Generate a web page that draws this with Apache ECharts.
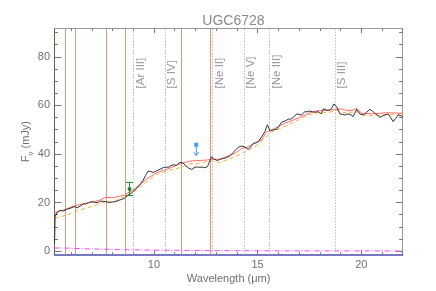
<!DOCTYPE html>
<html><head><meta charset="utf-8">
<script src="https://cdn.jsdelivr.net/npm/echarts@6/dist/echarts.min.js"></script>
<style>html,body{margin:0;padding:0;background:#fff}#c{width:436px;height:291px}</style>
</head><body><div id="c"></div>
<script>
// ---------- data ----------
const chartTitle = 'UGC6728';
const xName = 'Wavelength (\u03bcm)';
const xTickLabels = [10, 15, 20];
const xMinorTicks = [6,7,8,9,11,12,13,14,16,17,18,19,21,22];
const yTickLabels = [0, 20, 40, 60, 80];
const yMinorTicks = [5,10,15,25,30,35,45,50,55,65,70,75,85,90];
const pahWaves = [5.7, 6.2, 7.7, 8.6, 11.3, 12.7];
const lineNames = ['[Ar III]', '[S IV]', '[Ne II]', '[Ne V]', '[Ne III]', '[S III]'];
const lineWaves = [8.99, 10.51, 12.81, 14.32, 15.56, 18.71];

const spectrum = [[5.2,3],[5.23,14.2],[5.34,16.2],[5.48,16.8],[5.62,16.5],[5.78,17.2],[5.95,17.6],[6.14,18.3],[6.32,17.9],[6.45,18.6],[6.59,19.4],[6.72,19.5],[6.83,19.9],[6.95,20.3],[7.07,20.2],[7.19,20.0],[7.31,20.1],[7.43,20.6],[7.55,20.5],[7.72,20.3],[7.84,20.0],[7.96,20.2],[8.08,20.3],[8.2,20.5],[8.32,21.0],[8.44,21.3],[8.57,21.7],[8.76,23.1],[8.88,23.7],[9.0,24.5],[9.12,25.6],[9.24,26.5],[9.36,27.8],[9.48,29.3],[9.6,31.2],[9.72,33],[9.85,32.7],[9.97,32.4],[10.13,33.1],[10.29,33.7],[10.45,34.4],[10.57,34.6],[10.69,34.5],[10.81,35.2],[10.93,35.5],[11.09,35.4],[11.25,36.6],[11.41,36.2],[11.53,35.2],[11.65,34.3],[11.82,33.6],[11.98,34.6],[12.1,34.6],[12.22,34.5],[12.34,34.6],[12.46,34.3],[12.58,34.8],[12.67,35.5],[12.78,38.9],[12.86,38.0],[12.94,37.5],[13.06,37.3],[13.18,37.8],[13.34,38.2],[13.5,38.5],[13.66,39.2],[13.78,40.3],[13.91,41.4],[14.07,42.8],[14.23,43.3],[14.39,42.8],[14.55,41.9],[14.67,43.0],[14.79,44.4],[14.91,44.6],[15.03,45.1],[15.2,47.1],[15.35,49.2],[15.47,52],[15.6,49.6],[15.75,49.9],[15.92,50.2],[16.04,51.6],[16.16,53.1],[16.32,53.6],[16.48,54.3],[16.6,54.4],[16.72,55],[16.88,56.5],[17.0,56.3],[17.12,56.1],[17.28,57.4],[17.4,57.4],[17.53,57.7],[17.65,57.3],[17.77,57.2],[17.93,57.4],[18.06,56.5],[18.17,58.6],[18.33,58.1],[18.49,58.1],[18.6,59.2],[18.68,60.6],[18.81,59.5],[18.97,56.5],[19.09,56.3],[19.21,56.1],[19.33,56.4],[19.45,56.4],[19.61,55.4],[19.78,58.4],[19.94,56.5],[20.1,56.1],[20.26,57.2],[20.42,58.4],[20.54,57.6],[20.66,56.8],[20.78,56.0],[20.9,55.1],[21.02,55.6],[21.14,56.1],[21.3,56.5],[21.42,55.0],[21.54,53.3],[21.66,54.6],[21.78,56.1],[21.9,55.8],[22,55.4]];

const modelRed = [[5.2,15.8],[5.62,16.9],[6.18,18.7],[6.74,19.7],[7.38,21.0],[7.66,22.1],[7.72,22.3],[8.03,22.0],[8.57,23.1],[9.0,25.2],[9.65,29.7],[10.13,32.3],[10.61,33.7],[11.25,35.9],[11.73,37.1],[12.54,37.5],[12.86,37.9],[13.18,37.8],[13.91,40.3],[14.23,42.3],[14.55,43.0],[14.87,44.4],[15.2,45.8],[15.44,49.2],[15.68,49.9],[16.0,51.3],[16.32,52.7],[16.72,54.0],[17.12,55.4],[17.53,57.0],[17.77,57.7],[18.09,57.9],[18.41,57.9],[18.73,58.4],[19.05,58.6],[19.3,57.9],[19.61,58.1],[19.78,58.8],[20.02,56.8],[20.58,56.5],[21.22,57.0],[21.86,56.8],[22,56.8]];

const modelOrange = [[5.2,13.5],[5.78,14.8],[6.42,16.9],[7.07,18.6],[7.66,20.3],[8.03,20.3],[8.57,22.4],[9.17,25.2],[9.65,28.6],[10.13,31.6],[10.77,33.4],[11.33,34.5],[11.73,35.9],[12.22,36.2],[12.7,37.2],[13.18,36.4],[13.91,38.9],[14.39,41.0],[14.87,43.0],[15.35,46.5],[15.6,48.8],[16.0,50.2],[16.48,52.0],[16.96,54.0],[17.45,56.1],[17.93,57.0],[18.41,57.0],[18.73,57.9],[18.9,58.1],[19.13,57.0],[19.78,57.4],[20.02,56.1],[20.58,55.7],[21.22,56.1],[22,56.5]];

const modelMagenta = [[5.2,1.3],[6.0,1.2],[6.5,1.0],[7.5,0.8],[8.5,0.6],[10,0.4],[11.5,0.3],[13,0.2],[16,0.1],[19,0.1],[22,0.05]];

const photPoint = [[8.82, 25.6, 22.9, 28.3]];   // wave, flux, low, high
const upperLimit = [[12.04, 43.8, 39.3]];       // wave, flux, arrow tip

// ---------- layout / style ----------
const FONT = 'Liberation Sans';
const TXT = '#707070';
const GRID = {left: 54.5, right: 33.3, top: 28.7, bottom: 36.5};
const XMIN = 5.2, XMAX = 22, YMIN = -1.4, YMAX = 91.6;
const LABEL_DX = 0.36, LABEL_Y = 67;

function xAx(gi, pos, ticks, len, extra) {
  return Object.assign({
    type: 'value', gridIndex: gi, position: pos, min: XMIN, max: XMAX,
    axisLine: {show: false, onZero: false},
    axisTick: {show: true, inside: true, length: len, customValues: ticks, lineStyle: {color: '#777', width: 1}},
    axisLabel: {show: false}, splitLine: {show: false}
  }, extra || {});
}
function yAx(gi, pos, ticks, len, extra) {
  return Object.assign({
    type: 'value', gridIndex: gi, position: pos, min: YMIN, max: YMAX,
    axisLine: {show: false, onZero: false},
    axisTick: {show: true, inside: true, length: len, customValues: ticks, lineStyle: {color: '#777', width: 1}},
    axisLabel: {show: false}, splitLine: {show: false}
  }, extra || {});
}
function vLines(waves, color, dash, z) {
  return {
    type: 'custom', xAxisIndex: 0, yAxisIndex: 0, silent: true, z: z,
    data: waves.map(w => [w]),
    renderItem(params, api) {
      const top = api.coord([api.value(0), YMAX]);
      const bot = api.coord([api.value(0), YMIN]);
      const x = Math.round(top[0]) + 0.5;
      return {type: 'line', shape: {x1: x, y1: top[1], x2: x, y2: bot[1]},
        style: {stroke: color, lineWidth: 1, lineDash: dash}};
    }
  };
}

const chart = echarts.init(document.getElementById('c'), null, {renderer: 'canvas'});
const option = {
  animation: false,
  backgroundColor: '#fff',
  textStyle: {fontFamily: FONT},
  title: {text: chartTitle, left: 228.5, top: 9, textAlign: 'center',
    textStyle: {fontFamily: FONT, fontSize: 14, fontWeight: 'normal', color: '#8a8a8a'}},
  grid: [Object.assign({}, GRID), Object.assign({}, GRID)],
  xAxis: [
    xAx(0, 'bottom', xTickLabels, 4.5, {
      axisLine: {show: true, onZero: false, lineStyle: {color: '#4c4cae', width: 1.5}},
      axisLabel: {show: true, customValues: xTickLabels, margin: 5, color: TXT, fontSize: 11, fontFamily: FONT},
      name: xName, nameLocation: 'middle', nameGap: 19, nameMoveOverlap: false,
      nameTextStyle: {color: TXT, fontSize: 11, fontFamily: FONT}
    }),
    xAx(0, 'top', xTickLabels, 4.5, {axisLine: {show: true, onZero: false, lineStyle: {color: '#999', width: 1}}}),
    xAx(1, 'bottom', xMinorTicks, 2.3),
    xAx(1, 'top', xMinorTicks, 2.3)
  ],
  yAxis: [
    yAx(0, 'left', yTickLabels, 7, {
      axisLine: {show: true, onZero: false, lineStyle: {color: '#6e5a50', width: 1}},
      axisLabel: {show: true, customValues: yTickLabels, margin: 4.5, color: TXT, fontSize: 11, fontFamily: FONT},
      name: '{a|F}{b|\u03bd}{a| (mJy)}', nameLocation: 'middle', nameGap: 19.5, nameRotate: 90, nameMoveOverlap: false,
      nameTextStyle: {color: TXT, fontFamily: FONT, rich: {
        a: {fontSize: 11, lineHeight: 18, color: TXT, fontFamily: FONT},
        b: {fontSize: 8, lineHeight: 10, verticalAlign: 'bottom', color: TXT, fontFamily: FONT}
      }}
    }),
    yAx(0, 'right', yTickLabels, 7, {axisLine: {show: true, onZero: false, lineStyle: {color: '#999', width: 1}}}),
    yAx(1, 'left', yMinorTicks, 3.5),
    yAx(1, 'right', yMinorTicks, 3.5)
  ],
  series: [
    vLines(pahWaves, '#d09c7c', null, 1),
    vLines(lineWaves, '#a0a0a0', [1, 2], 1),
    {
      type: 'scatter', xAxisIndex: 0, yAxisIndex: 0, symbolSize: 0, silent: true, z: 2,
      data: lineWaves.map((w, i) => ({value: [w + LABEL_DX, LABEL_Y], name: lineNames[i]})),
      label: {show: true, position: 'inside', formatter: '{b}', rotate: 90, align: 'left', verticalAlign: 'middle',
        color: '#7a7a7a', fontSize: 11.5, fontFamily: FONT}
    },
    {type: 'line', data: modelMagenta, showSymbol: false, symbol: 'none', silent: true, z: 3,
      lineStyle: {color: '#ff40ff', width: 1, type: [5, 2, 1, 2]}},
    {type: 'line', data: modelOrange, showSymbol: false, symbol: 'none', silent: true, z: 4,
      lineStyle: {color: '#ffad3a', width: 1, type: [4, 3]}},
    {type: 'line', data: modelRed, showSymbol: false, symbol: 'none', silent: true, z: 5,
      lineStyle: {color: '#ff6c6c', width: 1}},
    {type: 'line', data: spectrum, showSymbol: false, symbol: 'none', silent: true, z: 6,
      lineStyle: {color: '#333', width: 1}},
    {
      type: 'custom', data: photPoint, silent: true, z: 7,
      renderItem(params, api) {
        const c = '#1f8a2a';
        const p = api.coord([api.value(0), api.value(1)]);
        const lo = api.coord([api.value(0), api.value(2)]);
        const hi = api.coord([api.value(0), api.value(3)]);
        const w = 3.5;
        return {type: 'group', children: [
          {type: 'line', shape: {x1: lo[0], y1: lo[1], x2: hi[0], y2: hi[1]}, style: {stroke: c, lineWidth: 1}},
          {type: 'line', shape: {x1: hi[0] - w, y1: hi[1], x2: hi[0] + w, y2: hi[1]}, style: {stroke: c, lineWidth: 1}},
          {type: 'line', shape: {x1: lo[0] - w, y1: lo[1], x2: lo[0] + w, y2: lo[1]}, style: {stroke: c, lineWidth: 1}},
          {type: 'circle', shape: {cx: p[0], cy: p[1], r: 2}, style: {fill: c}}
        ]};
      }
    },
    {
      type: 'custom', data: upperLimit, silent: true, z: 7,
      renderItem(params, api) {
        const c = '#3d9cff';
        const p = api.coord([api.value(0), api.value(1)]);
        const t = api.coord([api.value(0), api.value(2)]);
        return {type: 'group', children: [
          {type: 'line', shape: {x1: p[0], y1: p[1], x2: t[0], y2: t[1]}, style: {stroke: c, lineWidth: 1}},
          {type: 'polyline', shape: {points: [[t[0] - 2.5, t[1] - 3.5], [t[0], t[1]], [t[0] + 2.5, t[1] - 3.5]]}, style: {stroke: c, lineWidth: 1, fill: null}},
          {type: 'rect', shape: {x: p[0] - 2, y: p[1] - 2, width: 4, height: 4}, style: {fill: c}}
        ]};
      }
    }
  ]
};
chart.setOption(option);
</script>
</body></html>
